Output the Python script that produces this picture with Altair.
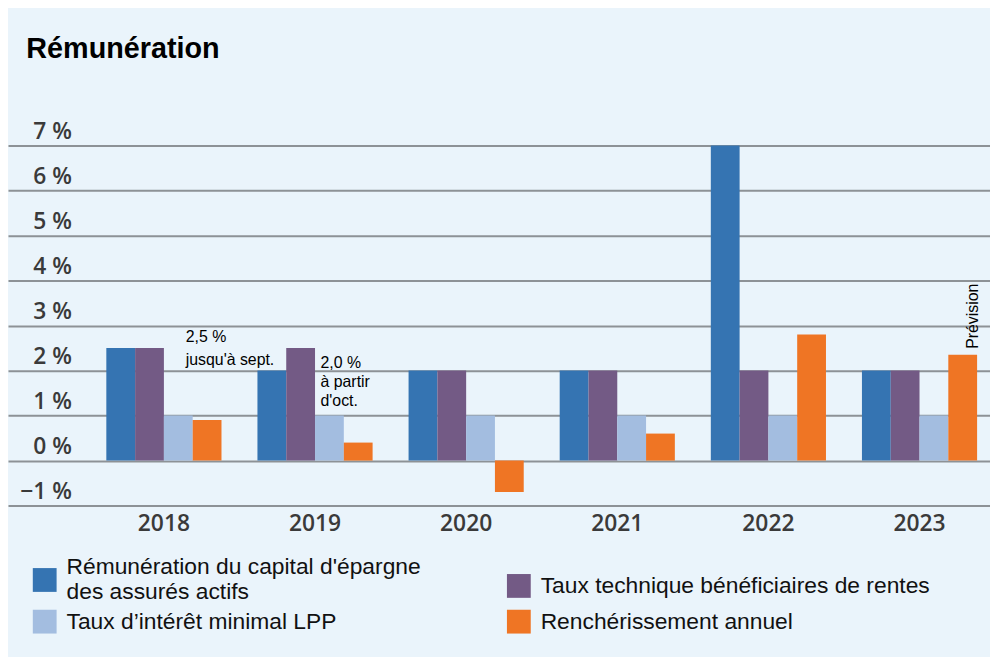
import json
import altair as alt
import pandas as pd

# ---------------- data ----------------
years = ["2018", "2019", "2020", "2021", "2022", "2023"]
series = [
    "Rémunération du capital d'épargne des assurés actifs",
    "Taux technique bénéficiaires de rentes",
    "Taux d’intérêt minimal LPP",
    "Renchérissement annuel",
]
capital_epargne = [2.5, 2.0, 2.0, 2.0, 7.0, 2.0]
taux_technique = [2.5, 2.5, 2.0, 2.0, 2.0, 2.0]
taux_lpp = [1.0, 1.0, 1.0, 1.0, 1.0, 1.0]
rencherissement = [0.9, 0.4, -0.7, 0.6, 2.8, 2.35]
colors = ["#3574b2", "#735a85", "#a3bde0", "#ef7524"]
y_ticks = [-1, 0, 1, 2, 3, 4, 5, 6, 7]
legend_first_label = ["Rémunération du capital d'épargne", "des assurés actifs"]

note_2018_year = ["2018"]
note_2018_value = [3.0]
note_2018_text = [["2,5 %", "jusqu'à sept."]]
note_2019_year = ["2019"]
note_2019_value = [2.0]
note_2019_text = [["2,0 %", "à partir", "d'oct."]]
forecast_year = ["2023"]
forecast_value = [2.35]
forecast_text = ["Prévision"]

rows = []
for s, vals in zip(series, [capital_epargne, taux_technique, taux_lpp, rencherissement]):
    for y, v in zip(years, vals):
        rows.append({"year": y, "series": s, "value": v})
bars_df = pd.DataFrame(rows)

n18 = pd.DataFrame({"year": note_2018_year, "value": note_2018_value, "text": note_2018_text})
n19 = pd.DataFrame({"year": note_2019_year, "value": note_2019_value, "text": note_2019_text})
fc = pd.DataFrame({"year": forecast_year, "value": forecast_value, "text": forecast_text})

# ---------------- encodings ----------------
x_enc = alt.X(
    "year:N",
    sort=years,
    scale=alt.Scale(domain=years, paddingInner=0.238, paddingOuter=0.368, align=0.884),
    axis=alt.Axis(
        title=None, labelFont="Open Sans", labelFontSize=23, labelFontWeight=600,
        labelColor="#3a3a3a", labelPadding=25, labelBaseline="alphabetic",
        ticks=False, domain=False, grid=False, labelAngle=0,
    ),
)
y_enc = alt.Y(
    "value:Q",
    scale=alt.Scale(domain=[-1, 7], nice=False, zero=False),
    axis=alt.Axis(
        title=None, values=y_ticks,
        labelExpr="format(datum.value, 'd') + ' %'",
        labelFont="Open Sans", labelFontSize=23, labelFontWeight=600,
        labelColor="#3a3a3a", labelAlign="right", labelBaseline="alphabetic",
        labelPadding=-64, labelOffset=-7,
        grid=True, gridColor="#8d9296", gridWidth=2,
        ticks=False, domain=False,
    ),
)

first = json.dumps(series[0], ensure_ascii=False)
label_expr = "datum.label == {} ? {} : datum.label".format(
    first, json.dumps(legend_first_label, ensure_ascii=False)
)
baseline_expr = "datum.value == {} ? 'line-bottom' : 'middle'".format(first)

bars = alt.Chart(bars_df).mark_bar().encode(
    x=x_enc,
    y=y_enc,
    xOffset=alt.XOffset("series:N", sort=series, scale=alt.Scale(domain=series)),
    color=alt.Color(
        "series:N",
        sort=series,
        scale=alt.Scale(domain=series, range=colors),
        legend=alt.Legend(
            title=None, orient="none", legendX=25, legendY=426, columns=2,
            direction="horizontal",
            columnPadding=86, rowPadding=6, symbolType="square", symbolSize=576,
            symbolStrokeWidth=0, labelFont="Liberation Sans", labelFontSize=23,
            labelColor="#111111", labelOffset=10, labelLimit=600, padding=0,
            labelExpr=label_expr,
            labelBaseline=alt.ExprRef(expr=baseline_expr),
        ),
    ),
)

ann18 = alt.Chart(n18).mark_text(
    align="left", baseline="alphabetic", dx=22, dy=17, fontSize=16,
    font="Liberation Sans", lineHeight=23, color="#000000",
).encode(x=x_enc, y=y_enc, text="text")

ann19 = alt.Chart(n19).mark_text(
    align="left", baseline="alphabetic", dx=5.5, dy=-2.5, fontSize=16,
    font="Liberation Sans", lineHeight=19, color="#000000",
).encode(x=x_enc, y=y_enc, text="text")

prev = alt.Chart(fc).mark_text(
    angle=270, align="left", baseline="alphabetic", dx=6, dy=59, fontSize=16,
    font="Liberation Sans", color="#000000",
).encode(x=x_enc, y=y_enc, text="text:N")

chart = alt.layer(bars, ann18, ann19, prev).properties(
    width=990,
    height=363,
    background="#eaf4fb",
    padding={"left": 0, "top": 136, "right": 0, "bottom": 150},
    autosize=alt.AutoSizeParams(type="none"),
    title=alt.TitleParams(
        text="Rémunération", anchor="start", frame="group", font="Liberation Sans",
        fontSize=29, fontWeight="bold", color="#000000", dx=18.5, offset=34,
        baseline="alphabetic",
    ),
).configure_view(stroke=None)

chart.save("out.html", embed_options={"renderer": "svg", "actions": False})
